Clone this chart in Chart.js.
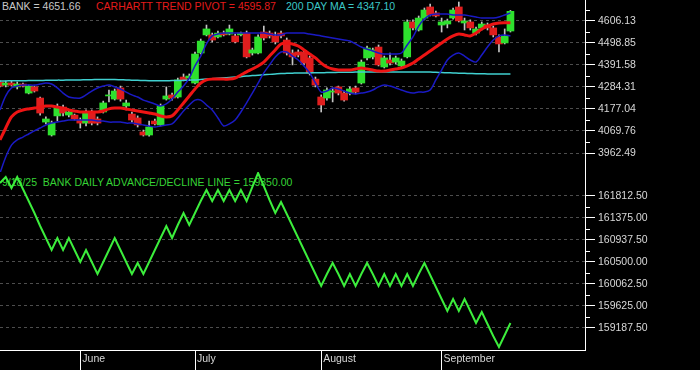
<!DOCTYPE html>
<html>
<head>
<meta charset="utf-8">
<script src="https://cdn.jsdelivr.net/npm/chart.js@4.4.1/dist/chart.umd.min.js"></script>
<style>
  body { margin: 0; background: #000; }
  #wrap { position: relative; width: 700px; height: 370px; background: #000; overflow: hidden; }
  canvas { position: absolute; left: 0; }
  #price { top: 0; }
  #breadth { top: 172px; }
  .lbl { position: absolute; font: 10.5px "Liberation Sans", Arial, sans-serif; line-height: 1; white-space: pre; }
</style>
</head>
<body>
<div id="wrap">
  <!-- labels sit behind the canvases so the lines run over them, as in the original -->
  <div class="lbl" style="left:2px;top:1px;color:#c8c8c8">BANK = 4651.66</div>
  <div class="lbl" style="left:96px;top:1px;color:#e41b1b">CARHARTT TREND PIVOT = 4595.87</div>
  <div class="lbl" style="left:286px;top:1px;color:#3cc8c8">200 DAY MA = 4347.10</div>
  <div class="lbl" style="left:2px;top:177px;color:#36d336">9/18/25  BANK DAILY ADVANCE/DECLINE LINE = 159350.00</div>
  <canvas id="price" width="700" height="172"></canvas>
  <canvas id="breadth" width="700" height="198"></canvas>
</div>
<script>
// trading days shown (May 12 - Sep 18, 2025)
var dates = ['5/12','5/13','5/14','5/15','5/16','5/19','5/20','5/21','5/22','5/23','5/27','5/28','5/29','5/30',
  '6/2','6/3','6/4','6/5','6/6','6/9','6/10','6/11','6/12','6/13','6/16','6/17','6/18','6/20','6/23','6/24','6/25','6/26','6/27','6/30',
  '7/1','7/2','7/3','7/7','7/8','7/9','7/10','7/11','7/14','7/15','7/16','7/17','7/18','7/21','7/22','7/23','7/24','7/25','7/28','7/29','7/30','7/31',
  '8/1','8/4','8/5','8/6','8/7','8/8','8/11','8/12','8/13','8/14','8/15','8/18','8/19','8/20','8/21','8/22','8/25','8/26','8/27','8/28','8/29',
  '9/2','9/3','9/4','9/5','9/8','9/9','9/10','9/11','9/12','9/15','9/16','9/17','9/18'];

// BANK index OHLC
var opens = [4308,4293,4303,4284,4298,4254,4284,4230,4113,4050,4143,4186,4147,4147,4123,4108,4162,4128,4162,4240,
  4225,4279,4191,4152,4133,4065,4050,4118,4099,4225,4245,4235,4332,4327,4303,4449,4537,4537,4527,4546,
  4541,4532,4537,4546,4449,4449,4551,4546,4532,4546,4512,4449,4454,4454,4425,4322,4235,4230,4259,4284,
  4254,4254,4279,4303,4425,4430,4478,4381,4415,4405,4386,4430,4600,4561,4619,4673,4644,4585,4590,4619,
  4673,4595,4600,4546,4571,4585,4571,4527,4498,4556];
var highs = [4313,4313,4313,4308,4303,4293,4288,4235,4138,4118,4201,4196,4172,4152,4133,4172,4172,4138,4215,4269,
  4274,4288,4220,4162,4143,4074,4118,4128,4201,4284,4254,4327,4347,4347,4454,4517,4585,4546,4556,4556,
  4585,4541,4551,4556,4473,4537,4580,4556,4551,4556,4522,4464,4464,4464,4434,4332,4245,4279,4279,4288,
  4264,4284,4288,4415,4483,4473,4488,4434,4449,4434,4420,4610,4610,4629,4668,4687,4653,4619,4614,4668,
  4697,4619,4610,4575,4600,4595,4580,4537,4566,4656];
var lows = [4284,4284,4288,4274,4284,4250,4259,4147,4104,4045,4118,4143,4138,4123,4084,4094,4099,4099,4157,4211,
  4220,4215,4172,4113,4089,4045,4045,4099,4094,4220,4220,4230,4313,4318,4298,4444,4532,4503,4522,4532,
  4537,4498,4532,4425,4439,4444,4512,4522,4493,4522,4439,4391,4430,4391,4342,4284,4162,4220,4211,4245,
  4215,4245,4250,4298,4415,4420,4386,4376,4391,4395,4381,4425,4561,4556,4610,4629,4624,4551,4571,4614,
  4600,4561,4561,4537,4561,4561,4527,4454,4493,4551];
var closes = [4288,4303,4293,4298,4288,4288,4264,4157,4128,4108,4186,4157,4162,4128,4108,4162,4108,4108,4206,4245,
  4264,4225,4206,4123,4099,4050,4089,4104,4191,4240,4230,4318,4318,4337,4444,4507,4566,4512,4546,4537,
  4566,4503,4546,4430,4464,4527,4522,4532,4503,4532,4449,4430,4439,4400,4352,4293,4196,4269,4264,4254,
  4220,4274,4259,4405,4473,4464,4391,4425,4400,4425,4410,4600,4571,4619,4658,4634,4629,4600,4605,4658,
  4605,4605,4571,4566,4590,4571,4537,4493,4532,4651.66];

// overlays
var pivot = [4026,4084,4138,4162,4172,4177,4181,4186,4191,4191,4186,4181,4172,4167,4162,4162,4162,4162,4167,4177,
  4181,4181,4177,4172,4167,4162,4157,4152,4143,4138,4143,4172,4206,4240,4274,4303,4318,4322,4322,4322,
  4322,4327,4342,4357,4371,4386,4405,4434,4464,4493,4498,4493,4483,4464,4444,4425,4400,4381,4371,4366,
  4366,4366,4371,4376,4371,4366,4361,4361,4366,4371,4376,4386,4400,4420,4439,4459,4478,4498,4517,4532,
  4541,4537,4532,4546,4566,4580,4590,4595,4596,4595.87];
var upperBand = [4172,4240,4279,4288,4293,4293,4293,4298,4303,4298,4279,4254,4235,4230,4230,4245,4264,4279,4288,4293,
  4284,4274,4259,4245,4235,4220,4211,4201,4191,4201,4225,4259,4288,4327,4386,4434,4493,4532,4541,4546,
  4546,4546,4546,4546,4546,4546,4546,4541,4537,4537,4546,4546,4546,4546,4541,4537,4532,4527,4522,4517,
  4512,4507,4493,4478,4468,4459,4449,4444,4444,4444,4449,4488,4527,4580,4614,4634,4639,4639,4639,4634,
  4634,4634,4629,4624,4619,4619,4619,4624,4634,4644];
var lowerBand = [3865,3943,4001,4026,4040,4055,4070,4084,4099,4108,4113,4118,4123,4123,4123,4123,4123,4118,4118,4113,
  4113,4113,4108,4108,4104,4099,4094,4089,4094,4099,4104,4133,4167,4196,4220,4220,4196,4172,4133,4094,
  4104,4123,4162,4206,4254,4303,4352,4391,4430,4454,4454,4434,4415,4386,4352,4303,4259,4264,4279,4274,
  4264,4254,4250,4254,4259,4269,4284,4293,4288,4279,4269,4259,4254,4259,4259,4269,4318,4366,4415,4439,
  4449,4434,4415,4405,4439,4478,4512,4532,4537,4532];
var ma200 = [4313,4313,4314,4314,4314,4315,4315,4315,4316,4316,4317,4317,4318,4318,4318,4319,4319,4320,4320,4320,
  4320,4319,4318,4317,4316,4315,4314,4314,4314,4314,4315,4315,4316,4317,4318,4320,4322,4324,4326,4328,
  4330,4332,4334,4337,4339,4341,4343,4345,4347,4349,4350,4351,4352,4352,4352,4353,4353,4354,4354,4355,
  4355,4355,4356,4356,4357,4357,4357,4357,4357,4357,4357,4357,4357,4357,4357,4356,4355,4354,4353,4352,
  4351,4350,4349,4348,4348,4347,4347,4347,4347,4347.10];

// BANK daily advance/decline line
var adLine = [162065,162184,161966,162184,161946,161707,161468,161210,160971,160733,160971,160733,160971,160733,160494,160733,160494,160255,160494,160733,
  160971,160733,160494,160255,160474,160255,160494,160733,160971,161210,160971,161230,161468,161230,161468,161707,161926,161707,161926,161707,
  161926,161707,161926,161707,161986,162264,162005,161727,161468,161687,161449,161210,160971,160733,160494,160255,160017,160255,160474,160255,
  160017,160255,160017,160255,160474,160255,160017,160255,160017,160255,160017,160255,160017,160255,160474,160236,159997,159758,159520,159758,
  159520,159758,159520,159281,159500,159261,159023,158804,159042,159281];

var priceTicks = [4606.13, 4498.85, 4391.58, 4284.31, 4177.04, 4069.76, 3962.49];
var adTicks = [161812.50, 161375.00, 160937.50, 160500.00, 160062.50, 159625.00, 159187.50];
var monthNames = { '6': 'June', '7': 'July', '8': 'August', '9': 'September' };

// empty slots on the right of the last bar
var labels = dates.concat(new Array(13).fill(''));

function monthLabel(i) {
  var d = labels[i], p = labels[i - 1];
  if (!d || !p) return '';
  var m = d.split('/')[0];
  return m !== p.split('/')[0] ? monthNames[m] : '';
}

var GREEN = '#2ee02e', RED = '#e01e1e';
var FONT = { family: 'Liberation Sans', size: 10.5 };

// short ticks half way between the labelled ones (and one above the top label on the price pane)
var minorTicks = {
  id: 'minorTicks',
  afterDraw: function (chart, args, opts) {
    var s = chart.scales.y, ctx = chart.ctx, t = s.ticks;
    var vals = [];
    for (var i = 0; i + 1 < t.length; i++) vals.push((t[i].value + t[i + 1].value) / 2);
    if (opts.above) vals.push(t[0].value + (t[0].value - t[1].value) / 2);
    ctx.save();
    ctx.strokeStyle = '#ffffff';
    ctx.lineWidth = 1;
    vals.forEach(function (v) {
      var y = Math.round(s.getPixelForValue(v)) + 0.5;
      ctx.beginPath();
      ctx.moveTo(s.left, y);
      ctx.lineTo(s.left + 5, y);
      ctx.stroke();
    });
    ctx.restore();
  }
};

function rightAxis(min, max, tickList) {
  return {
    position: 'right',
    min: min,
    max: max,
    afterBuildTicks: function (s) { s.ticks = tickList.map(function (v) { return { value: v }; }); },
    afterFit: function (s) {
      s.width = 115;
      s.paddingTop = 0;
      s.paddingBottom = 0;
    },
    grid: { color: '#4d4d4d', tickColor: '#ffffff', tickLength: 10, lineWidth: 1 },
    border: { display: true, color: '#ffffff', width: 1, dash: [3, 3] },
    ticks: {
      color: '#d8d8d8', padding: 3, font: FONT,
      callback: function (v) { return v.toFixed(2); }
    }
  };
}

var ctx = document.getElementById('price');
var priceChart = new Chart(ctx, {
  type: 'bar',
  data: {
    labels: labels,
    datasets: [
      {
        type: 'line', data: pivot, borderColor: '#ee1414', borderWidth: 3,
        pointRadius: 0, tension: 0.3, order: 1
      },
      {
        type: 'line', data: upperBand, borderColor: '#1a1ac4', borderWidth: 1.5,
        pointRadius: 0, tension: 0.3, order: 2
      },
      {
        type: 'line', data: lowerBand, borderColor: '#1a1ac4', borderWidth: 1.5,
        pointRadius: 0, tension: 0.3, order: 2
      },
      {
        type: 'line', data: ma200, borderColor: '#40d0d0', borderWidth: 1.5,
        pointRadius: 0, tension: 0.3, order: 3
      },
      {
        // candle bodies
        data: opens.map(function (o, i) { return [o, closes[i]]; }),
        backgroundColor: function (c) {
          return closes[c.dataIndex] >= opens[c.dataIndex] ? GREEN : RED;
        },
        barThickness: 7, minBarLength: 1, grouped: false, order: 4
      },
      {
        // wicks
        data: lows.map(function (l, i) { return [l, highs[i]]; }),
        backgroundColor: '#c4c4c4',
        barThickness: 1, grouped: false, order: 5
      }
    ]
  },
  options: {
    responsive: false,
    animation: false,
    events: [],
    layout: { padding: 0 },
    plugins: { legend: { display: false }, tooltip: { enabled: false }, minorTicks: { above: true } },
    scales: {
      x: { type: 'category', offset: false, display: false, grid: { offset: false } },
      y: rightAxis(3870.1, 4706.8, priceTicks)
    }
  },
  plugins: [minorTicks]
});

var ctx = document.getElementById('breadth');
var breadthChart = new Chart(ctx, {
  type: 'line',
  data: {
    labels: labels,
    datasets: [{
      data: adLine, borderColor: '#3cee3c', borderWidth: 2, pointRadius: 0, tension: 0
    }]
  },
  options: {
    responsive: false,
    animation: false,
    events: [],
    layout: { padding: 0 },
    plugins: { legend: { display: false }, tooltip: { enabled: false }, minorTicks: { above: false } },
    scales: {
      x: {
        type: 'category',
        offset: false,
        afterFit: function (s) {
          s.height = 20;
          s.paddingLeft = 0;
          s.paddingRight = 0;
        },
        grid: {
          offset: false, drawOnChartArea: false, drawTicks: true, tickLength: 20,
          tickColor: function (c) { return monthLabel(c.index) ? '#ffffff' : 'rgba(0,0,0,0)'; }
        },
        border: { display: true, color: '#ffffff', width: 1 },
        ticks: {
          autoSkip: false, maxRotation: 0, align: 'start', labelOffset: 2, padding: -17,
          color: '#d8d8d8', font: FONT,
          callback: function (v, i) { return monthLabel(i); }
        }
      },
      y: rightAxis(158744, 162283.8, adTicks)
    }
  },
  plugins: [minorTicks]
});
</script>
</body>
</html>
